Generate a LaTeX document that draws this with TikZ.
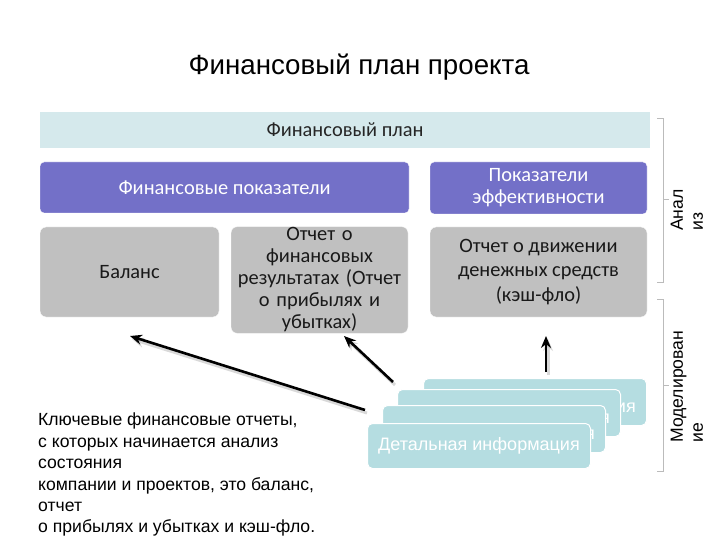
\documentclass[tikz,border=0pt]{standalone}
\usepackage{fontspec}
\setmainfont{Liberation Sans}
\newfontfamily\calfont{Carlito}
\usetikzlibrary{arrows.meta}
\definecolor{planbg}{HTML}{D5E9EC}
\definecolor{purp}{HTML}{7370C8}
\definecolor{grayb}{HTML}{C0C0C0}
\definecolor{cardc}{HTML}{B5DDE1}
\definecolor{brk}{HTML}{BBBBBB}
\tikzset{
  planbox/.style={fill=planbg, draw=none, minimum width=610pt, minimum height=36pt, font=\calfont\fontsize{20.4}{22}\selectfont, text=black!85},
  purpbox/.style={fill=purp, draw=white, rounded corners=4pt, font=\calfont\fontsize{20.4}{22}\selectfont, text=white, align=center},
  graybox/.style={fill=grayb, draw=white, rounded corners=6pt, font=\calfont\fontsize{20.4}{23}\selectfont, text=black!90, align=center},
  card/.style={fill=cardc, draw=white, line width=1pt, rounded corners=5pt, minimum width=223pt, minimum height=47pt, font=\fontsize{18}{20}\selectfont, text=white, inner sep=2pt},
  backcard/.style={card, text height=24pt, text depth=4pt},
  arr/.style={-{Stealth[length=12pt,width=10pt]}, line width=2.6pt, black},
  arrsh/.style={-{Stealth[length=12pt,width=10pt]}, line width=3pt, black!25, opacity=0.6},
  bracket/.style={draw=brk, line width=0.8pt},
  sidetxt/.style={rotate=90, align=left, anchor=west, inner sep=0pt, font=\fontsize{17.6}{20}\selectfont}
}
\begin{document}
\begin{tikzpicture}[x=1pt,y=-1pt]
\useasboundingbox (0,0) rectangle (720,540);
% title
\node (title) at (359,67) {\fontsize{27.7}{30}\selectfont Финансовый план проекта};
% top bar
\node[planbox] (plan) at (345,130) {Финансовый план};
% purple boxes
\node[purpbox, minimum width=369pt, minimum height=51pt] (fin) at (224.5,187.5) {Финансовые показатели};
\node[purpbox, minimum width=217pt, minimum height=52pt] (eff) at (538.5,188) {Показатели\\эффективности};
% gray boxes
\node[graybox, minimum width=179pt, minimum height=90pt] (bal) at (129.5,272) {Баланс};
\node[graybox, minimum width=177pt, minimum height=104pt, text width=170pt, inner sep=1pt, font=\calfont\fontsize{20.4}{22}\selectfont] (pnl) at (319.5,280) {Отчет о\\финансовых\\результатах (Отчет\\о прибылях и\\убытках)};
\node[graybox, minimum width=217pt, minimum height=90pt, font=\calfont\fontsize{20.4}{24.5}\selectfont] (cash) at (538.5,272) {Отчет о движении\\денежных средств\\(кэш-фло)};
% brackets
\draw[bracket] (657,118) -- (663,118) -- (663,282) -- (657,282);
\draw[bracket] (663,199) -- (669,199);
\draw[bracket] (657,299) -- (663,299) -- (663,471) -- (657,471);
\draw[bracket] (663,385) -- (669,385);
\node[sidetxt] (anal) at (687,231) {Анал\\из};
\node[sidetxt] (model) at (687,443) {Моделирован\\ие};
% cards
\node[backcard, anchor=north west] (c4) at (423,378) {Детальная информация};
\node[backcard, anchor=north west] (c3) at (397,389) {Детальная информация};
\node[backcard, anchor=north west] (c2) at (382,405) {Детальная информация};
\node[card, anchor=north west, minimum height=45pt] (c1) at (367,423) {Детальная информация};
% arrows
\coordinate (a1s) at (365,410);
\coordinate (a1e) at (130,336);
\coordinate (a2s) at (393,382);
\coordinate (a2e) at (344,336);
\coordinate (a3s) at (546,372);
\coordinate (a3e) at (546,336);
\draw[arrsh, transform canvas={shift={(2pt,-3pt)}}] (a1s) -- (a1e);
\draw[arrsh, transform canvas={shift={(2pt,-3pt)}}] (a2s) -- (a2e);
\draw[arrsh, transform canvas={shift={(2pt,-3pt)}}] (a3s) -- (a3e);
\draw[arr] (a1s) -- (a1e);
\draw[arr] (a2s) -- (a2e);
\draw[arr] (a3s) -- (a3e);
% note
\node[anchor=north west, align=left, font=\fontsize{17.6}{21.4}\selectfont, inner sep=0pt] (note) at (38,413) {Ключевые финансовые отчеты,\\с которых начинается анализ\\состояния\\компании и проектов, это баланс,\\отчет\\о прибылях и убытках и кэш-фло.};
\end{tikzpicture}
\end{document}
